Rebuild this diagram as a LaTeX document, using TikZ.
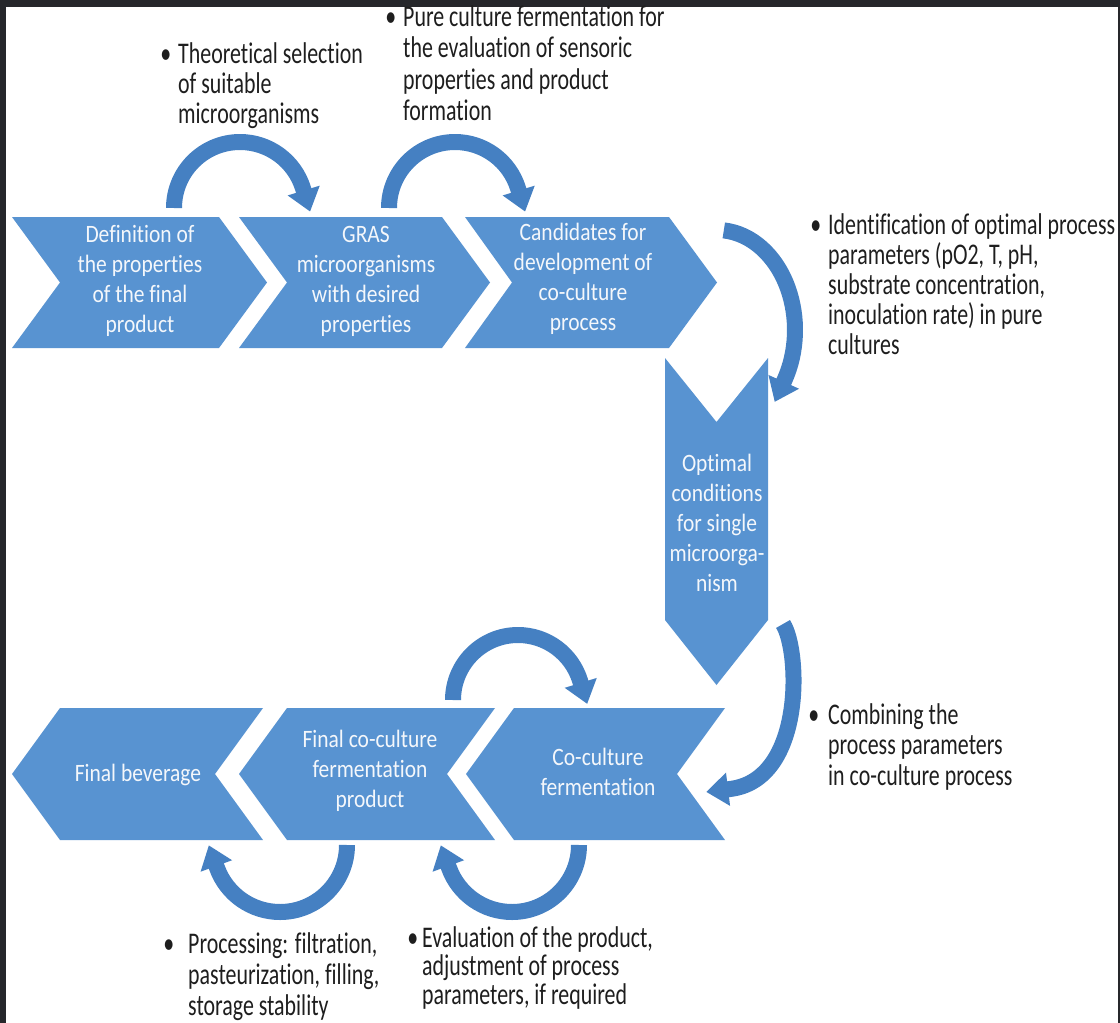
\documentclass[tikz,border=0pt]{standalone}
\usepackage{fontspec}
\setmainfont{Carlito}
\newfontfamily\chevfont[FakeStretch=0.86,Ligatures=NoCommon]{Carlito}
\newfontfamily\notefont[FakeStretch=0.73,Ligatures=NoCommon]{Carlito}
\usetikzlibrary{arrows.meta}
\definecolor{chevblue}{HTML}{5893D1}
\definecolor{arrowblue}{HTML}{4580C2}
\definecolor{framedark}{HTML}{26272B}
\definecolor{notegray}{HTML}{1E1E1E}
\definecolor{chevtxt}{HTML}{F4F7FB}
\tikzset{
  chev/.style={fill=chevblue},
  chevtext/.style={align=center, text=chevtxt, font=\chevfont\fontsize{25}{30}\selectfont, inner sep=0pt},
  carrow/.style={draw=arrowblue, line width=16pt, line join=round, -{Triangle[width=32pt,length=22pt]}},
  note/.style={anchor=base west, inner sep=0pt, text=notegray},
}
\newcommand\notebox[3][30]{\parbox[t]{320pt}{\notefont\fontsize{30}{#1}\selectfont\raggedright\leavevmode\llap{\textbullet\hspace{#2}}#3}}
\begin{document}
\begin{tikzpicture}[x=1pt,y=-1pt]
\useasboundingbox (0,0) rectangle (1120,1023);
\fill[framedark] (0,0) rectangle (1120,1023);
\fill[white] (6,7) rectangle (1118,1023);

% top row chevrons
\fill[chev] (12,217) -- (219,217) -- (267,282.5) -- (219,348) -- (12,348) -- (60,282.5) -- cycle;
\fill[chev] (239,217) -- (442,217) -- (490,282.5) -- (442,348) -- (239,348) -- (287,282.5) -- cycle;
\fill[chev] (465,217) -- (669,217) -- (717,282.5) -- (669,348) -- (465,348) -- (512,282.5) -- cycle;
% vertical chevron
\fill[chev] (665,358) -- (716.5,422) -- (768,358) -- (768,620) -- (716.5,685) -- (665,620) -- cycle;
% bottom row chevrons
\fill[chev] (12,774) -- (60,708) -- (263,708) -- (215,774) -- (263,840) -- (60,840) -- cycle;
\fill[chev] (239,774) -- (287,708) -- (495,708) -- (447,774) -- (495,840) -- (287,840) -- cycle;
\fill[chev] (466,774) -- (514,708) -- (725,708) -- (677,774) -- (725,840) -- (514,840) -- cycle;

% chevron texts
\node[chevtext] (c1) at (140,281) {Definition of\\the properties\\of the final\\product};
\node[chevtext] (c2) at (366,281) {GRAS\\microorganisms\\with desired\\properties};
\node[chevtext] (c3) at (583,279) {Candidates for\\development of\\co-culture\\process};
\node[chevtext] (c4) at (717,523) {Optimal\\conditions\\for single\\microorga-\\nism};
\node[chevtext] (c5) at (138,775) {Final beverage};
\node[chevtext] (c6) at (370,771) {Final co-culture\\fermentation\\product};
\node[chevtext] (c7) at (598,772) {Co-culture\\fermentation};

% curved arrows
\coordinate (a1s) at (174,208);   \coordinate (a1e) at (310.1,211.6);
\coordinate (a2s) at (389,208);   \coordinate (a2e) at (525.1,211.6);
\coordinate (a3s) at (723.8,230.4); \coordinate (a3e) at (774.7,401.9);
\coordinate (a4s) at (783,624);   \coordinate (a4m) at (730,789); \coordinate (a4e) at (706.2,791.9);
\coordinate (a5s) at (453,700);   \coordinate (a5e) at (587.2,703.9);
\coordinate (a6s) at (347,845);   \coordinate (a6e) at (208.8,845.3);
\coordinate (a7s) at (579,845);   \coordinate (a7e) at (440.8,845.3);

\draw[carrow] (a1s) arc[start angle=-180, end angle=-17, radius=66] -- (a1e);
\draw[carrow] (a2s) arc[start angle=-180, end angle=-17, radius=66] -- (a2e);
\draw[carrow] (a3s) arc[start angle=-85, end angle=30, x radius=78, y radius=100] -- (a3e);
\draw[carrow] (a4s) .. controls (800,650) and (805,780) .. (a4m) -- (a4e);
\draw[carrow] (a5s) arc[start angle=-180, end angle=-17, radius=65] -- (a5e);
\draw[carrow] (a6s) arc[start angle=0, end angle=160, radius=67] -- (a6e);
\draw[carrow] (a7s) arc[start angle=0, end angle=160, radius=67] -- (a7e);

% notes
\node[note] (tA) at (178,63) {\notebox{7pt}{Theoretical selection\\of suitable\\microorganisms}};
\node[note] (tB) at (403,26) {\notebox[31.5]{7pt}{Pure culture fermentation for\\the evaluation of sensoric\\properties and product\\formation}};
\node[note] (tC) at (828,234) {\notebox{7pt}{Identification of optimal process\\parameters (pO2, T, pH,\\substrate concentration,\\inoculation rate) in pure\\cultures}};
\node[note] (tD) at (828,724) {\notebox[30.5]{9pt}{Combining the\\process parameters\\in co-culture process}};
\node[note] (tE) at (188,953) {\notebox[31]{14pt}{Processing: filtration,\\pasteurization, filling,\\storage stability}};
\node[note] (tF) at (422,947) {\notebox[28.5]{4pt}{Evaluation of the product,\\adjustment of process\\parameters, if required}};
\end{tikzpicture}
\end{document}
